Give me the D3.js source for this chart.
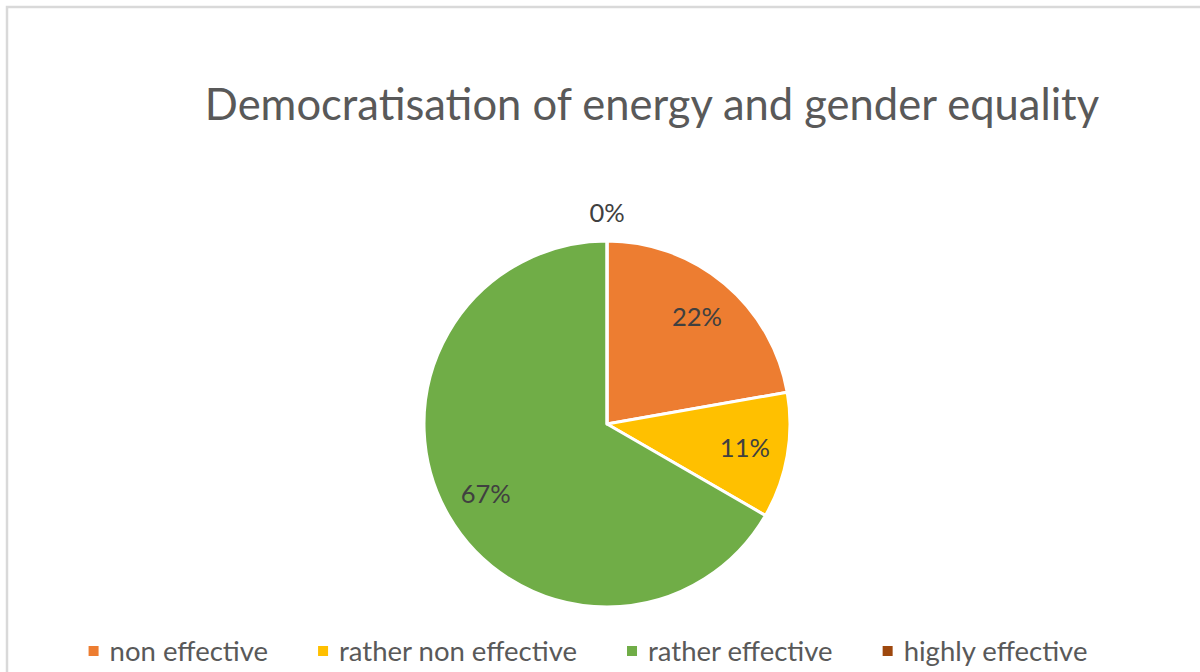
<!DOCTYPE html>
<html>
<head>
<meta charset="utf-8">
<script src="https://cdn.jsdelivr.net/npm/d3@7"></script>
<style>
  body { margin: 0; background: #fff; }
  svg { display: block; font-family: Lato, "Open Sans", sans-serif; }
</style>
</head>
<body>
<div id="chart"></div>
<script>
// survey answers, clockwise from 12 o'clock
var categories = ["non effective", "rather non effective", "rather effective", "highly effective"];
var counts = [2, 1, 6, 0];
var colors = ["#ED7D31", "#FFC000", "#70AD47", "#9E480E"];
var title = "Democratisation of energy and gender equality";

var W = 1200, H = 672;
var cx = 607, cy = 424, R = 183;

var svg = d3.select("#chart").append("svg")
    .attr("width", W)
    .attr("height", H);

// chart frame (only left/top visible in the crop)
svg.append("rect")
    .attr("x", 7).attr("y", 7)
    .attr("width", W + 20).attr("height", H + 20)
    .attr("fill", "#fff")
    .attr("stroke", "#d9d9d9")
    .attr("stroke-width", 2.5);

svg.append("text")
    .attr("x", 652).attr("y", 120)
    .attr("text-anchor", "middle")
    .attr("fill", "#595959")
    .style("font-size", "43.5px")
    .text(title);

var total = d3.sum(counts);
var pie = d3.pie().sort(null).value(function(d){ return d; });
var arcs = pie(counts);
var arc = d3.arc().innerRadius(0).outerRadius(R);
var labelArc = d3.arc().innerRadius(140).outerRadius(140);
var outerLabelArc = d3.arc().innerRadius(R + 28).outerRadius(R + 28);

var g = svg.append("g").attr("transform", "translate(" + cx + "," + cy + ")");

g.selectAll("path")
    .data(arcs)
    .enter()
    .append("path")
      .attr("d", arc)
      .attr("fill", function(d, i){ return colors[i]; })
      .attr("stroke", "#fff")
      .attr("stroke-width", 3)
      .attr("stroke-linejoin", "round");

g.selectAll("text.lbl")
    .data(arcs)
    .enter()
    .append("text")
      .attr("class", "lbl")
      .attr("transform", function(d){
          // zero slice gets its label outside
          var c = (d.value === 0 ? outerLabelArc : labelArc).centroid(d);
          return "translate(" + c[0] + "," + c[1] + ")";
      })
      .attr("text-anchor", "middle")
      .attr("dy", "0.35em")
      .attr("fill", "#404040")
      .style("font-size", "25.5px")
      .text(function(d){ return Math.round(d.value / total * 100) + "%"; });

// legend, laid out from measured text widths
var legend = svg.append("g");
var items = legend.selectAll("g")
    .data(categories)
    .enter()
    .append("g");

items.append("rect")
    .attr("width", 10).attr("height", 10)
    .attr("y", -5)
    .attr("fill", function(d, i){ return colors[i]; });

items.append("text")
    .attr("x", 21)
    .attr("dy", "0.35em")
    .attr("fill", "#595959")
    .style("font-size", "27.5px")
    .text(function(d){ return d; });

var x = 0;
var gap = 50;
items.each(function(){
    var w = 21 + d3.select(this).select("text").node().getComputedTextLength();
    d3.select(this).attr("transform", "translate(" + x + ",0)");
    x += w + gap;
});
var legendWidth = x - gap;
legend.attr("transform", "translate(" + (588 - legendWidth / 2) + ",651)");
</script>
</body>
</html>
